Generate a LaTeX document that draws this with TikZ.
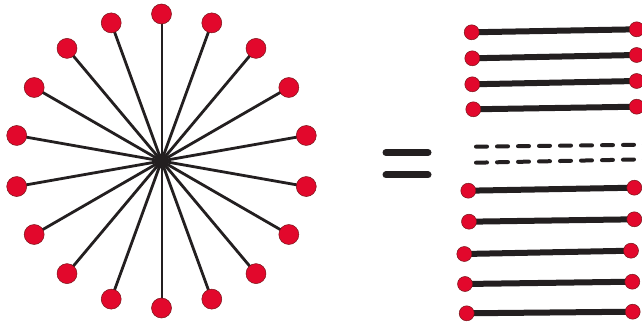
\documentclass[tikz,border=0pt]{standalone}
\usetikzlibrary{backgrounds}
\definecolor{dotred}{RGB}{226,8,44}
\definecolor{dotedge}{RGB}{120,20,25}
\definecolor{ink}{RGB}{35,31,32}
\begin{document}
\begin{tikzpicture}[x=1pt,y=-1pt,
  bigdot/.style={circle,fill=dotred,draw=dotedge,line width=0.5pt,inner sep=0pt,minimum size=20pt},
  smalldot/.style={circle,fill=dotred,draw=dotedge,line width=0.5pt,inner sep=0pt,minimum size=15pt},
  hub/.style={circle,fill=ink,inner sep=0pt,minimum size=15pt},
  spoke/.style={draw=ink,line width=2.8pt},
  bar/.style={draw=ink,line width=6pt},
  eqbar/.style={draw=ink,line width=7pt,line cap=round},
  dashline/.style={draw=ink,line width=4pt,line cap=round,dash pattern=on 11pt off 10pt}]
\useasboundingbox (0,0) rectangle (642,323);
\begin{scope}[on background layer]
  \fill[white] (0,0) rectangle (642,323);
\end{scope}
% star
\node[hub] (c) at (161.5,161) {};
\foreach \i in {1,...,18}{
  \pgfmathsetmacro{\ang}{90-20*(\i-1)}
  \node[bigdot] (o\i) at ({161.5+147*cos(\ang)},{161-147*sin(\ang)}) {};
}
\begin{scope}[on background layer]
  \foreach \i in {2,...,9,11,12,...,18}{\draw[spoke] (c.center) -- (o\i.center);}
  \draw[spoke,line width=2pt] (c.center) -- (o1.center);
  \draw[spoke,line width=2pt] (c.center) -- (o10.center);
\end{scope}
% equals sign
\coordinate (e1a) at (386,152.5);
\coordinate (e1b) at (428,152.5);
\coordinate (e2a) at (386,175);
\coordinate (e2b) at (428,175);
\draw[eqbar] (e1a) -- (e1b);
\draw[eqbar] (e2a) -- (e2b);
% edges
\node[smalldot] (l1) at (471.7,32.3) {};  \node[smalldot] (r1) at (636.7,29.3) {};
\node[smalldot] (l2) at (472.3,58.3) {};  \node[smalldot] (r2) at (636.7,55) {};
\node[smalldot] (l3) at (472.3,84.3) {};  \node[smalldot] (r3) at (636.7,81) {};
\node[smalldot] (l4) at (473.3,109.3) {}; \node[smalldot] (r4) at (636.7,106.7) {};
\node[smalldot] (l5) at (468.3,190.7) {}; \node[smalldot] (r5) at (634.3,187.7) {};
\node[smalldot] (l6) at (469,221.7) {};   \node[smalldot] (r6) at (634.3,219.3) {};
\node[smalldot] (l7) at (464.3,254) {};   \node[smalldot] (r7) at (631,250.7) {};
\node[smalldot] (l8) at (465,284) {};     \node[smalldot] (r8) at (632.3,281.7) {};
\node[smalldot] (l9) at (466.7,313.3) {}; \node[smalldot] (r9) at (632.7,311.7) {};
\begin{scope}[on background layer]
  \foreach \i in {1,...,9}{\draw[bar] (l\i.center) -- (r\i.center);}
\end{scope}
% dashed lines
\coordinate (d1a) at (476,146.7);
\coordinate (d1b) at (660,144.5);
\coordinate (d2a) at (476,162.7);
\coordinate (d2b) at (660,159);
\draw[dashline] (d1a) -- (d1b);
\draw[dashline] (d2a) -- (d2b);
\end{tikzpicture}
\end{document}
